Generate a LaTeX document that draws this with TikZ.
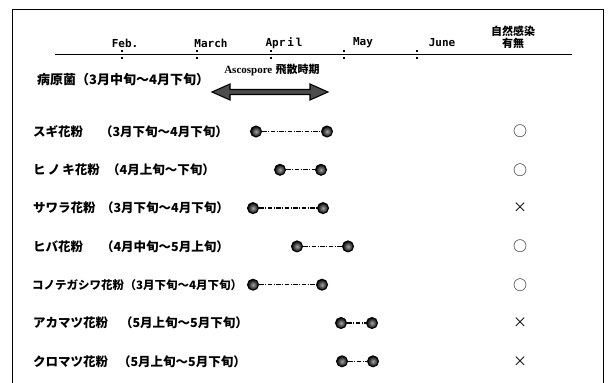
\documentclass[tikz,border=0pt]{standalone}
\usepackage{fontspec}
\usetikzlibrary{calc}
\newfontfamily\jp{Noto Sans CJK JP}
\newfontfamily\monof{DejaVu Sans Mono}
\newfontfamily\seriff{Liberation Serif}
\begin{document}
\begin{tikzpicture}[x=1pt,y=-1pt,
  jplabel/.style={font=\jp\bfseries\fontsize{12.5}{14}\selectfont, inner sep=0pt},
  jpsmall/.style={font=\jp\bfseries\fontsize{11.5}{13}\selectfont, inner sep=0pt},
  month/.style={font=\monof\bfseries\fontsize{11}{12}\selectfont, inner sep=0pt},
  pdot/.style={circle, draw=black, line width=1pt, minimum size=11pt, inner sep=0pt,
    inner color=gray!70, outer color=black},
  period/.style={line width=1.3pt, dash pattern=on 4.5pt off 1.5pt on 1pt off 1.5pt},
  symb/.style={font=\jp\fontsize{14}{15}\selectfont, inner sep=0pt}]
\useasboundingbox (0,0) rectangle (608,383);
% frame
\draw[line width=0.8pt] (12.5,384) -- (12.5,9.5) -- (603,9.5) -- (603,384);
% axis
\coordinate (axL) at (55,54);
\coordinate (axR) at (572,54);
\draw[line width=1pt] (axL) -- (axR);
\foreach \tx in {122,197,271,344,417}{
  \draw[line width=1.2pt] (\tx,50) -- (\tx,52);
  \draw[line width=1.2pt] (\tx,56.5) -- (\tx,59);
}
\node[month] (feb) at (125,43) {Feb.};
\node[month] (mar) at (211,43) {March};
\node[month] (apr) at (284,43) {Apr\,i\,l};
\node[month] (may) at (363,43) {May};
\node[month] (jun) at (442,43) {June};
\node[font=\jp\bfseries\fontsize{11}{11.5}\selectfont, inner sep=0pt, align=center] (inf) at (513,37.5) {自然感染\\有無};
% pathogen
\node[font=\jp\bfseries\fontsize{13}{14}\selectfont, inner sep=0pt, anchor=west] (path) at (37,80) {病原菌（3月中旬～4月下旬）};
\node[inner sep=0pt] (asco) at (272,70) {{\seriff\bfseries\fontsize{11}{12}\selectfont Ascospore} {\jp\bfseries\fontsize{11}{12}\selectfont 飛散時期}};
\coordinate (arL) at (212,92);
\coordinate (arR) at (328,92);
\draw[line width=1.1pt, fill=black!70]
  (arL) -- ++(18,-8) -- ++(0,5.5) -- ($(arR)+(-18,-2.5)$) -- ++(0,-5.5) -- (arR)
  -- ++(-18,8) -- ++(0,-5.5) -- ($(arL)+(18,2.5)$) -- ++(0,5.5) -- cycle;
% rows
% スギ
\node[jplabel, anchor=west] (n1) at (33,131.5) {スギ花粉};
\node[jplabel, anchor=east] (p1) at (228,131.5) {（3月下旬～4月下旬）};
\node[pdot] (a1) at (256,131.5) {}; \node[pdot] (b1) at (327,131.5) {};
\draw[period] (a1) -- (b1);
\node[symb] (s1) at (520,131.5) {○};
% ヒノキ
\node[jplabel, anchor=west] (n2) at (33,169.8) {ヒ\,ノ\,キ花粉};
\node[jplabel, anchor=east] (p2) at (215,169.8) {（4月上旬～下旬）};
\node[pdot] (a2) at (280,169.8) {}; \node[pdot] (b2) at (321,169.8) {};
\draw[period] (a2) -- (b2);
\node[symb] (s2) at (520,169.8) {○};
% サワラ
\node[jplabel, anchor=west] (n3) at (33,208.1) {サワラ花粉};
\node[jplabel, anchor=east] (p3) at (229,208.1) {（3月下旬～4月下旬）};
\node[pdot] (a3) at (253,208.1) {}; \node[pdot] (b3) at (323,208.1) {};
\draw[period] (a3) -- (b3);
\node[symb] (s3) at (520,208.1) {×};
% ヒバ
\node[jplabel, anchor=west] (n4) at (33,246.4) {ヒバ花粉};
\node[jplabel, anchor=east] (p4) at (229,246.4) {（4月中旬～5月上旬）};
\node[pdot] (a4) at (297,246.4) {}; \node[pdot] (b4) at (348,246.4) {};
\draw[period] (a4) -- (b4);
\node[symb] (s4) at (520,246.4) {○};
% コノテガシワ
\node[jpsmall, anchor=west] (n5) at (32,284.7) {コノテガシワ花粉};
\node[jpsmall, anchor=west] (p5) at (n5.east) {（3月下旬～4月下旬）};
\node[pdot] (a5) at (253,284.7) {}; \node[pdot] (b5) at (322,284.7) {};
\draw[period] (a5) -- (b5);
\node[symb] (s5) at (520,284.7) {○};
% アカマツ
\node[jplabel, anchor=west] (n6) at (33,323) {アカマツ花粉};
\node[jplabel, anchor=east] (p6) at (248,323) {（5月上旬～5月下旬）};
\node[pdot] (a6) at (341,323) {}; \node[pdot] (b6) at (372,323) {};
\draw[period] (a6) -- (b6);
\node[symb] (s6) at (520,323) {×};
% クロマツ
\node[jplabel, anchor=west] (n7) at (33,361.3) {クロマツ花粉};
\node[jplabel, anchor=east] (p7) at (246,361.3) {（5月上旬～5月下旬）};
\node[pdot] (a7) at (342,361.3) {}; \node[pdot] (b7) at (373,361.3) {};
\draw[period] (a7) -- (b7);
\node[symb] (s7) at (520,361.3) {×};
\end{tikzpicture}
\end{document}
